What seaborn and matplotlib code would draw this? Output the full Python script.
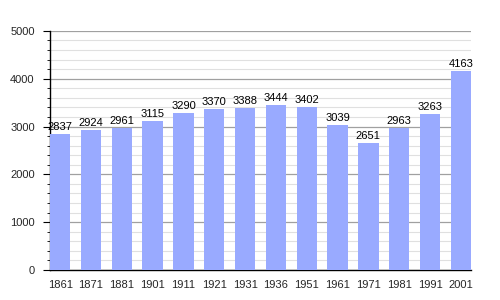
import matplotlib
matplotlib.use("Agg")
import matplotlib.pyplot as plt
import seaborn as sns
import pandas as pd
from matplotlib.ticker import MultipleLocator

years = ["1861", "1871", "1881", "1901", "1911", "1921", "1931", "1936",
         "1951", "1961", "1971", "1981", "1991", "2001"]
population = [2837, 2924, 2961, 3115, 3290, 3370, 3388, 3444,
              3402, 3039, 2651, 2963, 3263, 4163]

df = pd.DataFrame({"year": years, "pop": population})

sns.set_theme(style="white")
plt.rcParams['font.family'] = ['Liberation Sans', 'DejaVu Sans']

fig = plt.figure(figsize=(5, 3), dpi=100)
ax = fig.add_axes([0.1, 0.1, 0.842, 0.797])

w = 0.66
sns.barplot(data=df, x="year", y="pop", color="#99AAFF", saturation=1,
            width=w, ax=ax, zorder=3, edgecolor="none", linewidth=0)

ax.set_ylim(0, 5000)
ax.set_xlim(-w / 2, len(years) - 1 + w / 2)
ax.yaxis.set_major_locator(MultipleLocator(1000))
ax.yaxis.set_minor_locator(MultipleLocator(200))
ax.grid(which="major", axis="y", color="#a0a0a0", linewidth=0.9, zorder=0)
ax.grid(which="minor", axis="y", color="#e0e0e0", linewidth=0.8, zorder=0)
ax.set_axisbelow(True)

for s in ["top", "right"]:
    ax.spines[s].set_visible(False)
for s in ["left", "bottom"]:
    ax.spines[s].set_color("black")
    ax.spines[s].set_linewidth(1.0)

ax.tick_params(axis="y", which="major", left=True, length=5, width=0.8,
               color="black", labelsize=8, pad=6)
ax.tick_params(axis="y", which="minor", left=True, length=2.5, width=0.6,
               color="black")
ax.tick_params(axis="x", bottom=False, labelsize=8, pad=1)
ax.set_xlabel("")
ax.set_ylabel("")

for i, v in enumerate(population):
    ax.text(i, v + 40, str(v), ha="center", va="bottom", fontsize=8,
            color="black", zorder=4)

fig.savefig("out.png", dpi=100)
